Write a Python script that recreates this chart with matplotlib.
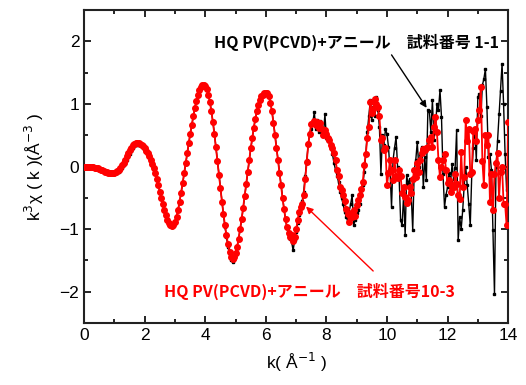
import numpy as np
import matplotlib
matplotlib.use("Agg")
import matplotlib.pyplot as plt
from matplotlib.ticker import MultipleLocator

plt.rcParams['font.family'] = ['Liberation Sans', 'Noto Sans CJK JP', 'DejaVu Sans']

# k grid: 0.00 .. 14.00, step 0.05 (281 points)
k_step = 0.05
k = np.arange(281) * k_step

# sample 10-3 (red), one row per 1 A^-1
chi_10_3 = [
    0.00, 0.00, 0.00, 0.00, 0.00, -0.01, -0.01, -0.02, -0.02, -0.03, -0.04, -0.05, -0.06, -0.07, -0.08, -0.09, -0.10, -0.11, -0.11, -0.11,
    -0.10, -0.09, -0.07, -0.05, -0.02, 0.02, 0.06, 0.11, 0.16, 0.21, 0.26, 0.30, 0.34, 0.36, 0.38, 0.38, 0.37, 0.36, 0.34, 0.32,
    0.29, 0.25, 0.21, 0.16, 0.10, 0.04, -0.03, -0.11, -0.20, -0.30, -0.40, -0.50, -0.60, -0.70, -0.78, -0.85, -0.90, -0.94, -0.95, -0.93,
    -0.88, -0.80, -0.69, -0.56, -0.42, -0.27, -0.11, 0.05, 0.21, 0.37, 0.52, 0.66, 0.80, 0.93, 1.04, 1.14, 1.22, 1.27, 1.30, 1.31,
    1.29, 1.24, 1.15, 1.03, 0.88, 0.71, 0.52, 0.31, 0.09, -0.13, -0.35, -0.56, -0.76, -0.94, -1.10, -1.24, -1.36, -1.45, -1.48, -1.45,
    -1.38, -1.28, -1.15, -1.00, -0.84, -0.66, -0.47, -0.28, -0.08, 0.11, 0.29, 0.46, 0.62, 0.76, 0.88, 0.98, 1.06, 1.12, 1.15, 1.17,
    1.18, 1.17, 1.12, 1.02, 0.88, 0.70, 0.50, 0.30, 0.10, -0.10, -0.30, -0.50, -0.68, -0.84, -0.97, -1.06, -1.12, -1.10, -1.19, -1.12,
    -1.00, -0.86, -0.72, -0.64, -0.60, -0.45, -0.20, 0.07, 0.36, 0.52, 0.68, 0.70, 0.73, 0.66, 0.71, 0.62, 0.69, 0.60, 0.50, 0.58,
    0.52, 0.45, 0.42, 0.35, 0.30, 0.22, 0.10, -0.05, -0.15, -0.33, -0.38, -0.45, -0.55, -0.68, -0.76, -0.89, -0.74, -0.80, -0.70, -0.79,
    -0.62, -0.54, -0.45, -0.36, -0.25, 0.02, 0.20, 0.45, 0.63, 1.03, 0.85, 0.92, 1.08, 1.00, 0.95, 0.80, 0.42, 0.45, 0.26, 0.30,
    -0.30, -0.10, 0.10, -0.05, -0.22, 0.10, -0.15, -0.18, -0.05, -0.15, -0.43, -0.33, -0.49, -0.59, -0.54, -0.33, -0.43, -0.20, -0.06, -0.17,
    0.05, -0.08, 0.10, 0.22, 0.28, 0.26, 0.30, 0.31, 0.42, 0.47, 0.31, 0.63, 0.79, 0.55, 0.10, -0.17, 0.00, 0.10, 0.20, -0.06,
    -0.27, -0.22, -0.41, -0.30, -0.33, -0.12, -0.28, -0.45, -0.52, 0.23, -0.33, -0.17, 0.74, 0.40, 0.60, -0.12, -0.09, 0.56, 0.60, 0.40,
    0.74, 0.90, 1.27, 0.09, -0.30, 0.50, 0.35, 0.50, -0.57, -0.12, -0.70, -0.12, 0.05, 0.21, -0.50, -0.09, 0.00, -0.60, -0.60, -0.94,
    0.71,
]

# sample 1-1 (black)
chi_1_1 = [
    0.00, 0.00, 0.00, 0.00, -0.01, -0.01, -0.02, -0.02, -0.03, -0.04, -0.05, -0.06, -0.07, -0.08, -0.09, -0.10, -0.11, -0.12, -0.12, -0.12,
    -0.12, -0.11, -0.10, -0.08, -0.05, -0.02, 0.02, 0.06, 0.11, 0.16, 0.20, 0.25, 0.29, 0.32, 0.34, 0.35, 0.35, 0.34, 0.32, 0.30,
    0.27, 0.24, 0.20, 0.15, 0.09, 0.03, -0.04, -0.12, -0.21, -0.31, -0.41, -0.51, -0.61, -0.71, -0.79, -0.86, -0.91, -0.95, -0.96, -0.94,
    -0.89, -0.81, -0.70, -0.57, -0.43, -0.28, -0.12, 0.04, 0.20, 0.36, 0.51, 0.65, 0.79, 0.92, 1.03, 1.13, 1.21, 1.27, 1.30, 1.32,
    1.30, 1.25, 1.16, 1.04, 0.89, 0.72, 0.53, 0.32, 0.10, -0.12, -0.34, -0.56, -0.77, -0.96, -1.13, -1.28, -1.40, -1.50, -1.53, -1.47,
    -1.40, -1.29, -1.16, -1.01, -0.85, -0.67, -0.48, -0.29, -0.09, 0.10, 0.28, 0.45, 0.61, 0.75, 0.87, 0.97, 1.05, 1.11, 1.14, 1.16,
    1.17, 1.16, 1.13, 1.03, 0.89, 0.71, 0.51, 0.31, 0.11, -0.09, -0.29, -0.49, -0.68, -0.85, -0.99, -1.10, -1.15, -1.20, -1.34, -1.18,
    -1.05, -0.90, -0.78, -0.66, -0.55, -0.40, -0.15, 0.10, 0.35, 0.55, 0.60, 0.70, 0.87, 0.60, 0.75, 0.55, 0.72, 0.50, 0.48, 0.84,
    0.45, 0.40, 0.45, 0.30, 0.20, 0.05, -0.05, -0.15, -0.25, -0.40, -0.50, -0.60, -0.72, -0.80, -0.86, -0.72, -0.60, -0.46, -0.94, -0.85,
    -0.75, -0.70, -0.60, -0.45, -0.30, -0.09, 0.20, 0.55, 0.80, 1.06, 0.75, 0.95, 0.80, 1.11, 0.90, 0.63, -0.12, 0.50, 0.35, 0.60,
    0.52, 0.31, -0.06, -0.65, 0.10, 0.30, 0.47, -0.01, -0.17, -0.86, -0.94, -0.44, -1.10, -0.14, -0.28, -0.20, -0.44, -1.02, -0.06, 0.10,
    0.39, -0.01, 0.20, 0.31, -0.33, 0.15, -0.22, 0.90, 0.88, 0.55, 1.06, 0.42, 0.60, 1.00, 0.90, 1.22, 0.79, -0.12, -0.65, -0.45,
    -0.33, -0.10, -0.25, 0.04, -0.20, -0.02, 0.58, -1.18, -0.81, -1.00, -0.70, -0.30, -0.01, -0.30, -0.60, -0.94, -0.12, 0.30, 0.58, 0.10,
    1.11, 1.16, 0.80, 1.30, 1.40, 1.56, 0.95, 0.15, 0.20, -0.06, -1.02, -2.04, -0.01, 0.40, 0.84, 1.20, 1.64, 1.00, 0.20, -0.38,
    -0.05,
]

label_1_1 = 'HQ PV(PCVD)+アニール　試料番号 1-1'
label_10_3 = 'HQ PV(PCVD)+アニール　試料番号10-3'

fig = plt.figure(figsize=(5.26, 3.85), dpi=100)
ax = fig.add_axes([0.160, 0.161, 0.806, 0.813])

ax.plot(k, chi_1_1, color='black', lw=1.0, marker='s', ms=2.0, zorder=2)
ax.plot(k, chi_10_3, color='#ff0000', lw=1.3, marker='o', ms=4.0, mec='#ff0000', zorder=3)

ax.set_xlim(0, 14)
ax.set_ylim(-2.5, 2.5)
ax.xaxis.set_major_locator(MultipleLocator(2))
ax.xaxis.set_minor_locator(MultipleLocator(1))
ax.yaxis.set_major_locator(MultipleLocator(1))
ax.yaxis.set_minor_locator(MultipleLocator(0.5))
ax.tick_params(which='both', direction='in', top=True, right=True, width=1.2, labelsize=12.5)
ax.tick_params(which='major', length=5)
ax.tick_params(which='minor', length=3)
for s in ax.spines.values():
    s.set_linewidth(1.5)
    s.set_color('#222222')

ax.set_xlabel('k( Å$^{-1}$ )', fontsize=12.5, labelpad=6)
ax.set_ylabel('k$^3$χ ( k )(Å$^{-3}$ )', fontsize=12.5, labelpad=10)

jp = ['Noto Sans CJK JP', 'DejaVu Sans']
ax.text(9.0, 1.98, label_1_1, ha='center', va='center', fontsize=11.5,
        fontweight='bold', family=jp, color='black')
ax.text(7.43, -2.0, label_10_3, ha='center', va='center', fontsize=11.5,
        fontweight='bold', family=jp, color='#ff0000')

ax.annotate('', xy=(11.36, 0.90), xytext=(10.1, 1.82),
            arrowprops=dict(arrowstyle='-|>', color='black', lw=1.0, mutation_scale=10))
ax.annotate('', xy=(7.26, -0.61), xytext=(9.61, -1.70),
            arrowprops=dict(arrowstyle='-|>', color='#ff0000', lw=1.0, mutation_scale=10))

fig.savefig('out.png', dpi=100)
